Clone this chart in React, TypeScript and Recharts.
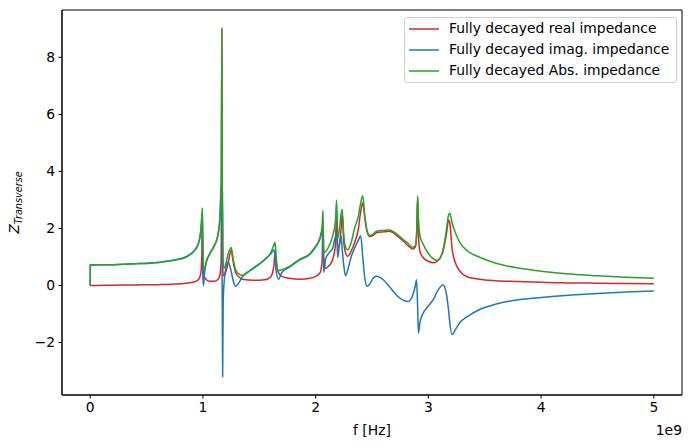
import React from 'react';
import { LineChart, Line, XAxis, YAxis, ReferenceArea, Legend } from 'recharts';

// frequency in units of 1e9 Hz
const freq = [
  0, 0.001, 0.2, 0.4, 0.6, 0.75, 0.85, 0.92, 0.96, 0.98, 0.99, 0.996, 1.0, 1.005, 1.015, 1.03, 1.06, 1.1, 1.13, 1.15,
  1.162, 1.168, 1.172, 1.175, 1.18, 1.19, 1.205, 1.225, 1.25, 1.27, 1.29, 1.32, 1.35, 1.45, 1.55, 1.6, 1.63, 1.64, 1.65, 1.67,
  1.7, 1.77, 1.86, 1.95, 2.0, 2.04, 2.058, 2.065, 2.072, 2.09, 2.12, 2.15, 2.175, 2.186, 2.196, 2.21, 2.226, 2.235, 2.25, 2.265,
  2.285, 2.315, 2.345, 2.38, 2.4, 2.418, 2.435, 2.455, 2.48, 2.51, 2.54, 2.6, 2.655, 2.72, 2.78, 2.82, 2.86, 2.885, 2.895, 2.905, 2.912,
  2.925, 2.95, 3.0, 3.05, 3.08, 3.13, 3.16, 3.18, 3.19, 3.21, 3.24, 3.28, 3.35, 3.45, 3.6, 3.8, 4.0, 4.25, 4.5, 4.75, 5.0,
];
const realZ = [
  0, 0, 0.01, 0.02, 0.03, 0.05, 0.08, 0.12, 0.2, 0.4, 1.0, 2.4, 1.1, 0.45, 0.3, 0.2, 0.15, 0.15, 0.2, 0.35,
  0.9, 8.95, 2.0, 0.8, 0.35, 0.35, 0.5, 0.8, 1.25, 0.8, 0.45, 0.3, 0.22, 0.18, 0.2, 0.3, 0.7, 1.2, 0.8, 0.45,
  0.32, 0.25, 0.22, 0.25, 0.32, 0.45, 0.9, 2.3, 1.0, 0.6, 0.7, 0.9, 1.4, 2.6, 1.3, 1.4, 2.0, 2.5, 1.5, 1.15,
  1.02, 1.2, 1.5, 2.0, 2.6, 2.9, 2.4, 1.9, 1.72, 1.76, 1.85, 1.88, 1.9, 1.75, 1.55, 1.4, 1.28, 1.35, 1.7, 3.1, 1.8,
  1.2, 1.0, 0.85, 0.8, 0.85, 1.2, 1.8, 2.3, 2.2, 1.3, 0.8, 0.5, 0.3, 0.22, 0.17, 0.14, 0.11, 0.09, 0.08, 0.07, 0.06,
];
const imagZ = [
  0, 0.72, 0.73, 0.76, 0.81, 0.89, 1.0, 1.2, 1.45, 1.85, 2.25, 1.3, 0.3, 0.0, 0.45, 0.8, 1.1, 1.38, 1.7, 2.3,
  3.5, 2.0, -1.0, -3.2, -0.5, 0.2, 0.65, 0.82, 0.5, 0.15, -0.03, 0.1, 0.3, 0.6, 0.9, 1.1, 1.25, 1.0, 0.5, 0.22,
  0.45, 0.65, 0.9, 1.1, 1.35, 1.65, 1.9, 1.3, 0.46, 0.95, 1.15, 1.3, 1.7, 1.8, 0.98, 1.4, 1.74, 1.3, 0.7, 0.34,
  0.55, 1.0, 1.3, 1.6, 1.74, 1.0, 0.3, -0.03, 0.05, 0.25, 0.32, 0.2, -0.04, -0.35, -0.52, -0.56, -0.35, 0.0, 0.2, -0.8, -1.67,
  -1.3, -1.0, -0.72, -0.45, -0.2, 0.02, -0.3, -0.9, -1.3, -1.72, -1.55, -1.3, -1.08, -0.85, -0.65, -0.5, -0.42, -0.34, -0.28, -0.23, -0.19,
];
const absZ = [
  0, 0.72, 0.73, 0.76, 0.81, 0.89, 1.0, 1.21, 1.48, 1.9, 2.45, 2.72, 1.15, 0.55, 0.6, 0.85, 1.12, 1.4, 1.72, 2.33,
  3.6, 9.05, 2.3, 3.3, 0.62, 0.62, 0.8, 1.12, 1.33, 0.9, 0.55, 0.4, 0.36, 0.63, 0.92, 1.14, 1.42, 1.52, 1.0, 0.52,
  0.55, 0.68, 0.92, 1.12, 1.38, 1.7, 2.1, 2.63, 1.15, 1.19, 1.4, 1.72, 2.25, 3.0, 1.66, 1.95, 2.5, 2.67, 1.75, 1.35,
  1.25, 1.5, 2.0, 2.45, 2.9, 3.15, 2.5, 1.95, 1.75, 1.8, 1.9, 1.93, 1.95, 1.8, 1.6, 1.48, 1.34, 1.4, 1.75, 3.14, 2.4,
  1.75, 1.48, 1.12, 0.92, 0.88, 1.25, 1.95, 2.48, 2.53, 2.2, 1.85, 1.5, 1.2, 1.0, 0.78, 0.61, 0.5, 0.4, 0.34, 0.29, 0.25,
];

const xTicks = [0, 1, 2, 3, 4, 5];
const yTicks = [-2, 0, 2, 4, 6, 8];
const xDomain = [-0.25, 5.25];
const yDomain = [-3.84, 9.66];

const seriesNames = [
  'Fully decayed real impedance',
  'Fully decayed imag. impedance',
  'Fully decayed Abs. impedance',
];
const seriesKeys = ['re', 'im', 'ab'];
const seriesColors = ['#d62728', '#1f77b4', '#2ca02c'];

const data = freq.map((f, k) => ({ f, re: realZ[k], im: imagZ[k], ab: absZ[k] }));

const FONT = 'DejaVu Sans';
const FS = 13.89;

const renderLegend = () => (
  <div
    style={{
      border: '1px solid #d0d0d0',
      borderRadius: 3,
      background: 'rgba(255,255,255,0.8)',
      padding: '0px 7px 1px 0px',
      fontFamily: FONT,
      fontSize: FS,
      lineHeight: 1,
      color: '#000',
      boxSizing: 'border-box',
    }}
  >
    {seriesNames.map((n, k) => (
      <div key={n} style={{ display: 'flex', alignItems: 'center', height: 21 }}>
        <svg width={44} height={10} style={{ display: 'block', flex: 'none' }}>
          <line x1={4} x2={34} y1={5} y2={5} stroke={seriesColors[k]} strokeWidth={1.5} />
        </svg>
        <span style={{ whiteSpace: 'nowrap' }}>{n}</span>
      </div>
    ))}
  </div>
);

const YLabel = (props: any) => {
  const vb = props.viewBox || {};
  const cy = (vb.y ?? 10) + (vb.height ?? 385) / 2;
  const x = 18.5;
  return (
    <text
      x={x}
      y={cy}
      transform={`rotate(-90, ${x}, ${cy})`}
      textAnchor="middle"
      fontFamily={FONT}
      fill="#000"
    >
      <tspan fontStyle="italic" fontSize={FS}>Z</tspan>
      <tspan fontStyle="italic" fontSize={9.7} dy={3}>Transverse</tspan>
    </text>
  );
};

const XLabel = (props: any) => {
  const vb = props.viewBox || {};
  const x0 = vb.x ?? 62;
  const w = vb.width ?? 620;
  const y0 = vb.y ?? 395;
  return (
    <g>
      <text x={x0 + w / 2} y={y0 + 40} textAnchor="middle" fontFamily={FONT} fontSize={FS} fill="#000">
        f [Hz]
      </text>
      <text x={x0 + w} y={y0 + 40} textAnchor="end" fontFamily={FONT} fontSize={FS} fill="#000">
        1e9
      </text>
    </g>
  );
};

export default function App() {
  return (
    <div style={{ position: 'absolute', left: 0, top: 0, width: 692, height: 448, background: '#fff' }}>
      <LineChart width={692} height={448} data={data} margin={{ top: 10, right: 10, bottom: 23, left: 22 }}>
        <XAxis
          dataKey="f"
          type="number"
          domain={xDomain}
          ticks={xTicks}
          allowDataOverflow
          height={30}
          tickSize={3.5}
          tickMargin={3.5}
          axisLine={{ stroke: '#000', strokeWidth: 1 }}
          tickLine={{ stroke: '#000', strokeWidth: 1 }}
          tick={{ fill: '#000', fontSize: FS, fontFamily: FONT }}
          label={<XLabel />}
          interval={0}
        />
        <YAxis
          type="number"
          domain={yDomain}
          ticks={yTicks}
          allowDataOverflow
          width={40}
          tickSize={3.5}
          tickMargin={3.5}
          axisLine={{ stroke: '#000', strokeWidth: 1 }}
          tickLine={{ stroke: '#000', strokeWidth: 1 }}
          tick={{ fill: '#000', fontSize: FS, fontFamily: FONT }}
          tickFormatter={(v: number) => (v < 0 ? `\u2212${Math.abs(v)}` : `${v}`)}
          label={<YLabel />}
          interval={0}
        />
        <ReferenceArea
          x1={xDomain[0]}
          x2={xDomain[1]}
          y1={yDomain[0]}
          y2={yDomain[1]}
          fill="none"
          stroke="#000"
          strokeWidth={1}
          ifOverflow="visible"
        />
        {seriesKeys.map((k, idx) => (
          <Line
            key={k}
            dataKey={k}
            name={seriesNames[idx]}
            stroke={seriesColors[idx]}
            strokeWidth={1.5}
            dot={false}
            activeDot={false}
            type="monotoneX"
            isAnimationActive={false}
          />
        ))}
        <Legend
          layout="horizontal"
          verticalAlign="middle"
          align="center"
          content={renderLegend}
          wrapperStyle={{ position: 'absolute', left: 404, top: 17, width: 'auto', height: 'auto' }}
        />
      </LineChart>
    </div>
  );
}
